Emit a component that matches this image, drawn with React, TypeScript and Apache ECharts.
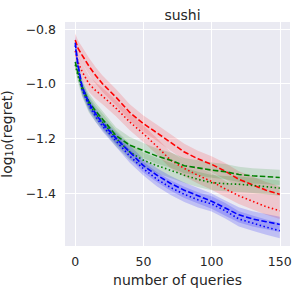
import React, { useEffect, useRef } from "react";
import * as echarts from "echarts";

const queries = [0, 2, 5, 10, 15, 20, 30, 40, 50, 60, 70, 80, 90, 100, 110, 120, 130, 140, 150];

const redDashed = [-0.84, -0.87, -0.895, -0.935, -0.97, -1.0, -1.05, -1.105, -1.146, -1.18, -1.215, -1.25, -1.275, -1.295, -1.32, -1.35, -1.37, -1.39, -1.405];
const redDotted = [-0.88, -0.92, -0.955, -1.0, -1.025, -1.045, -1.09, -1.14, -1.183, -1.23, -1.28, -1.31, -1.335, -1.358, -1.385, -1.41, -1.43, -1.45, -1.465];
const greenDashed = [-0.92, -0.96, -1.01, -1.065, -1.1, -1.13, -1.19, -1.225, -1.245, -1.265, -1.28, -1.3, -1.308, -1.316, -1.322, -1.332, -1.337, -1.34, -1.343];
const greenDotted = [-0.93, -0.97, -1.02, -1.075, -1.11, -1.14, -1.2, -1.25, -1.28, -1.3, -1.317, -1.335, -1.35, -1.362, -1.366, -1.368, -1.372, -1.377, -1.382];
const blueDashed = [-0.85, -0.93, -1.01, -1.07, -1.11, -1.145, -1.2, -1.25, -1.3, -1.335, -1.365, -1.39, -1.41, -1.43, -1.455, -1.48, -1.495, -1.505, -1.515];
const blueDotted = [-0.86, -0.94, -1.02, -1.08, -1.12, -1.155, -1.21, -1.265, -1.311, -1.35, -1.38, -1.405, -1.425, -1.44, -1.465, -1.495, -1.51, -1.525, -1.538];

const redErr = [0.025, 0.028, 0.03, 0.03, 0.03, 0.03, 0.03, 0.03, 0.03, 0.03, 0.03, 0.03, 0.03, 0.03, 0.03, 0.03, 0.03, 0.03, 0.03];
const greenErr = [0.02, 0.025, 0.028, 0.03, 0.03, 0.03, 0.03, 0.03, 0.028, 0.028, 0.028, 0.028, 0.028, 0.028, 0.028, 0.028, 0.028, 0.028, 0.028];
const blueErr = [0.03, 0.025, 0.022, 0.02, 0.02, 0.02, 0.022, 0.024, 0.025, 0.026, 0.027, 0.028, 0.028, 0.028, 0.028, 0.028, 0.028, 0.028, 0.028];

const xTicks = [0, 50, 100, 150];
const yTicks = [-1.4, -1.2, -1.0, -0.8];

const FONT = "DejaVu Sans";
const TEXT = "#262626";

function band(mean: number[], err: number[], fill: string) {
  return {
    type: "custom",
    z: 1,
    silent: true,
    clip: true,
    data: queries.map((q, i) => [q, mean[i] - err[i], mean[i] + err[i]]),
    encode: { x: 0, y: [1, 2] },
    renderItem: (params: any, api: any) => {
      if (params.dataIndex !== 0) return null;
      const upper = queries.map((q, i) => api.coord([q, mean[i] + err[i]]));
      const lower = queries.map((q, i) => api.coord([q, mean[i] - err[i]])).reverse();
      return {
        type: "polygon",
        shape: { points: upper.concat(lower) },
        style: { fill, stroke: "none" },
      };
    },
  };
}

function line(mean: number[], color: string, dash: number[]) {
  return {
    type: "line",
    z: 3,
    data: queries.map((q, i) => [q, mean[i]]),
    showSymbol: false,
    symbol: "none",
    lineStyle: { color, width: 1.6, type: dash },
  };
}

const DASH = [5.5, 2.4];
const DOT = [1.5, 2.5];

export default function App() {
  const ref = useRef<HTMLDivElement>(null);
  useEffect(() => {
    if (!ref.current) return;
    const chart = echarts.init(ref.current, undefined, { renderer: "svg" });
    const fmtY = (v: number) => (v < 0 ? "\u2212" : "") + Math.abs(v).toFixed(1);
    chart.setOption({
      animation: false,
      title: {
        text: "sushi",
        left: 177.5,
        textAlign: "center",
        top: 3,
        textStyle: { fontFamily: FONT, fontSize: 14, fontWeight: "normal", color: TEXT },
      },
      grid: {
        left: 65,
        right: 9,
        top: 22,
        bottom: 47,
        show: true,
        backgroundColor: "#EAEAF2",
        borderWidth: 0,
        containLabel: false,
        outerBoundsMode: "none",
      },
      xAxis: {
        type: "value",
        min: -7.5,
        max: 157.5,
        name: "number of queries",
        nameLocation: "middle",
        nameGap: 25,
        nameTextStyle: { fontFamily: FONT, fontSize: 14, color: TEXT },
        axisLine: { show: false },
        axisTick: { show: false, customValues: xTicks },
        axisLabel: {
          customValues: xTicks,
          fontFamily: FONT,
          fontSize: 12.5,
          color: TEXT,
          margin: 9,
        },
        splitLine: { show: true, lineStyle: { color: "#ffffff", width: 1 } },
      },
      yAxis: {
        type: "value",
        min: -1.594,
        max: -0.774,
        name: "log{sub|10}(regret)",
        nameLocation: "middle",
        nameRotate: 90,
        nameGap: 45,
        nameTextStyle: {
          fontFamily: FONT,
          fontSize: 14,
          color: TEXT,
          rich: {
            sub: { fontFamily: FONT, fontSize: 10, color: TEXT, verticalAlign: "bottom", padding: [6, 0, 0, 0] },
          },
        },
        axisLine: { show: false },
        axisTick: { show: false, customValues: yTicks },
        axisLabel: {
          customValues: yTicks,
          formatter: fmtY,
          fontFamily: FONT,
          fontSize: 12.5,
          color: TEXT,
          margin: 9,
        },
        splitLine: { show: true, lineStyle: { color: "#ffffff", width: 1 } },
      },
      series: [
        band(redDashed, redErr, "rgba(255,0,0,0.15)"),
        band(redDotted, redErr, "rgba(255,0,0,0.15)"),
        band(greenDashed, greenErr, "rgba(0,128,0,0.15)"),
        band(greenDotted, greenErr, "rgba(0,128,0,0.15)"),
        band(blueDashed, blueErr, "rgba(0,0,255,0.18)"),
        band(blueDotted, blueErr, "rgba(0,0,255,0.18)"),
        line(redDashed, "#ff0000", DASH),
        line(redDotted, "#ff0000", DOT),
        line(greenDashed, "#008000", DASH),
        line(greenDotted, "#008000", DOT),
        line(blueDashed, "#0000ff", DASH),
        line(blueDotted, "#0000ff", DOT),
      ],
    });
    return () => chart.dispose();
  }, []);
  return <div ref={ref} style={{ width: 299, height: 293, position: "absolute", left: 0, top: 0 }} />;
}
